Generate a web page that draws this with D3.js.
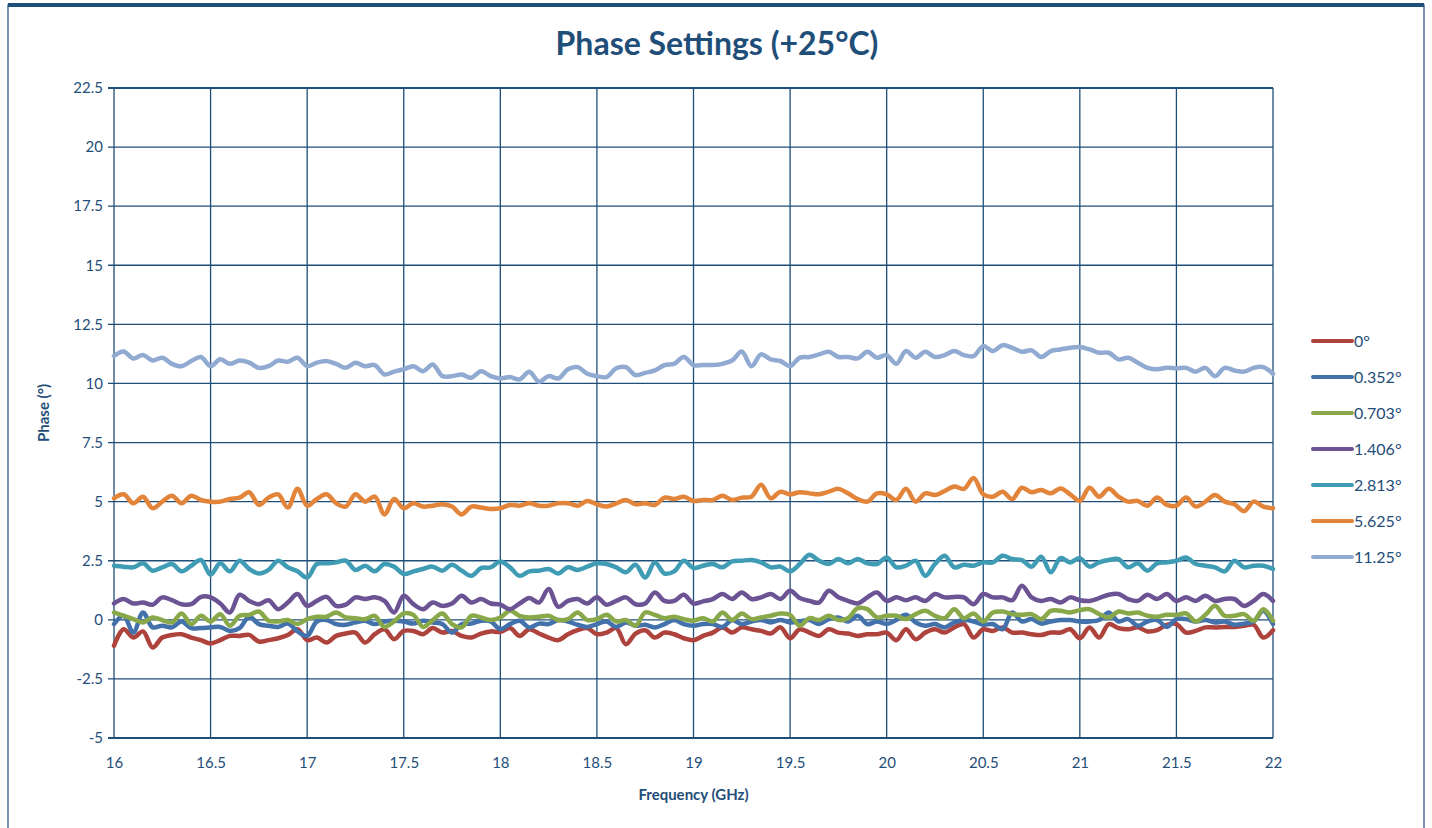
<!DOCTYPE html>
<html>
<head>
<meta charset="utf-8">
<script src="https://cdn.jsdelivr.net/npm/d3@7"></script>
<style>
  html, body { margin: 0; padding: 0; background: #fff; }
  svg { display: block; }
</style>
</head>
<body>
<svg id="chart" width="1432" height="828"></svg>
<script>
// ---------- DATA ----------
const freqStart = 16, freqStep = 0.05;
const xTicks = [16, 16.5, 17, 17.5, 18, 18.5, 19, 19.5, 20, 20.5, 21, 21.5, 22];
const yTicks = [-5, -2.5, 0, 2.5, 5, 7.5, 10, 12.5, 15, 17.5, 20, 22.5];
const seriesNames = ["0°", "0.352°", "0.703°", "1.406°", "2.813°", "5.625°", "11.25°"];
const seriesColors = ["#AE423D", "#4371AB", "#88A84A", "#6C5393", "#3F9CB4", "#E2843A", "#91AAD1"];

const s0 = [-1.1,-0.4,-0.75,-0.49,-1.17,-0.75,-0.64,-0.61,-0.75,-0.86,-1.0,-0.86,-0.68,-0.68,-0.64,-0.92,-0.86,-0.78,-0.64,-0.4,-0.86,-0.75,-0.96,-0.68,-0.58,-0.54,-0.96,-0.61,-0.4,-0.82,-0.47,
-0.47,-0.61,-0.35,-0.54,-0.47,-0.68,-0.75,-0.58,-0.49,-0.51,-0.35,-0.68,-0.4,-0.58,-0.75,-0.86,-0.61,-0.44,-0.35,-0.61,-0.54,-0.35,-1.03,-0.58,-0.44,-0.75,-0.54,-0.61,-0.78,-0.86,
-0.68,-0.54,-0.32,-0.54,-0.32,-0.4,-0.47,-0.58,-0.32,-0.78,-0.4,-0.54,-0.68,-0.4,-0.54,-0.58,-0.68,-0.61,-0.61,-0.54,-0.86,-0.4,-0.82,-0.54,-0.4,-0.54,-0.32,-0.18,-0.75,-0.4,
-0.47,-0.32,-0.54,-0.54,-0.61,-0.64,-0.54,-0.54,-0.4,-0.78,-0.32,-0.75,-0.18,-0.35,-0.4,-0.32,-0.49,-0.44,-0.21,-0.18,-0.54,-0.47,-0.32,-0.32,-0.3,-0.3,-0.25,-0.21,-0.75,-0.44];
const s1 = [-0.18,0.17,-0.54,0.31,-0.32,-0.25,-0.32,-0.07,-0.35,-0.35,-0.32,-0.3,-0.47,-0.35,0.13,-0.18,-0.25,-0.3,-0.16,-0.49,-0.68,-0.07,-0.01,-0.18,-0.21,-0.11,-0.04,-0.18,-0.07,-0.04,-0.07,
-0.16,-0.04,-0.11,-0.18,-0.54,-0.18,-0.16,-0.04,-0.07,-0.4,-0.18,-0.04,-0.32,-0.16,-0.18,-0.01,-0.07,-0.21,-0.3,-0.18,-0.07,-0.3,-0.11,-0.25,-0.21,-0.32,-0.18,-0.01,-0.18,-0.25,
-0.18,-0.18,-0.3,-0.01,-0.18,-0.07,-0.01,-0.11,-0.01,-0.11,-0.07,-0.01,-0.18,0.03,0.1,-0.07,0.17,-0.18,-0.07,-0.18,-0.01,0.21,-0.11,-0.25,-0.18,-0.32,-0.11,-0.01,-0.07,-0.21,
-0.18,-0.4,0.31,-0.07,0.03,-0.16,-0.07,-0.01,-0.01,-0.07,-0.07,-0.01,0.31,-0.07,0.03,-0.25,-0.07,-0.01,-0.3,0.03,0.03,-0.07,-0.01,-0.11,-0.07,-0.21,-0.16,-0.07,0.38,-0.18];
const s2 = [0.31,0.17,0.03,-0.11,0.1,-0.01,-0.11,0.27,-0.18,0.17,-0.07,0.24,-0.25,0.17,0.21,0.35,-0.04,-0.07,-0.01,-0.18,0.03,0.13,0.13,0.31,0.1,0.07,0.03,0.17,-0.3,-0.07,0.27,
0.21,-0.3,-0.01,0.27,-0.18,-0.32,0.17,0.1,-0.01,0.1,0.38,0.17,0.1,0.13,0.17,-0.01,0.03,0.31,-0.01,0.03,0.21,-0.07,-0.01,-0.25,0.31,0.21,0.07,0.13,0.03,-0.04,
0.07,-0.07,0.31,-0.01,0.27,0.03,0.1,0.17,0.27,0.21,-0.25,0.07,-0.01,0.17,-0.01,0.07,0.49,0.45,0.1,0.17,0.17,0.03,0.24,0.38,0.17,0.07,0.45,0.07,0.27,-0.07,
0.31,0.35,0.24,0.21,0.24,0.03,0.38,0.38,0.31,0.41,0.45,0.24,0.1,0.35,0.27,0.31,0.17,0.13,0.21,0.21,0.27,-0.07,0.21,0.59,0.17,0.17,0.24,-0.04,0.45,-0.04];
const s3 = [0.69,0.88,0.69,0.73,0.64,0.95,0.83,0.66,0.66,0.97,0.95,0.69,0.31,1.06,0.8,0.66,0.83,0.45,0.73,1.09,0.59,0.8,0.97,0.59,0.64,0.95,0.88,0.95,0.8,0.31,1.02,
0.66,0.45,0.73,0.59,0.69,1.02,0.73,0.88,0.69,0.64,0.45,0.69,0.92,0.73,1.3,0.55,0.8,0.88,0.69,0.95,0.64,0.8,0.95,0.66,0.69,1.16,0.8,0.8,1.06,0.69,
0.78,0.88,1.09,0.88,1.16,0.88,0.95,1.09,0.88,1.23,0.92,0.8,0.73,1.23,0.95,0.8,0.69,0.95,1.16,0.8,0.95,0.83,0.95,0.8,1.09,0.95,0.97,0.95,0.66,1.09,
0.95,0.95,0.83,1.44,0.95,0.8,0.88,0.73,0.95,0.83,0.8,0.92,1.06,1.09,0.88,0.8,1.06,0.88,1.09,0.8,0.95,0.8,1.02,0.8,0.88,0.88,0.59,0.8,1.09,0.8];
const s4 = [2.29,2.25,2.22,2.39,2.08,2.22,2.36,2.05,2.29,2.53,1.91,2.39,2.05,2.5,2.15,1.96,2.11,2.5,2.22,2.05,1.79,2.36,2.39,2.43,2.5,2.11,2.29,2.05,2.36,2.25,1.94,
2.05,2.15,2.25,2.08,2.33,2.08,1.86,2.19,2.22,2.47,2.22,1.86,2.05,2.08,2.15,1.96,2.22,2.11,2.25,2.39,2.36,2.22,2.01,2.33,1.79,2.43,1.96,2.05,2.5,2.19,
2.29,2.36,2.22,2.47,2.5,2.53,2.43,2.22,2.25,2.05,2.36,2.75,2.5,2.36,2.57,2.39,2.57,2.39,2.36,2.64,2.22,2.29,2.5,1.86,2.36,2.71,2.22,2.33,2.29,2.43,
2.43,2.71,2.57,2.53,2.25,2.67,2.01,2.61,2.43,2.61,2.25,2.43,2.53,2.57,2.22,2.39,2.08,2.39,2.43,2.5,2.64,2.36,2.29,2.22,2.05,2.5,2.22,2.29,2.29,2.15];
const s5 = [5.14,5.31,4.93,5.21,4.72,5.0,5.25,4.93,5.25,5.07,5.0,5.0,5.11,5.17,5.4,4.86,5.17,5.31,4.75,5.54,4.83,5.11,5.31,4.93,4.79,5.31,5.0,5.21,4.46,5.11,4.72,
4.93,4.79,4.83,4.89,4.79,4.46,4.79,4.75,4.69,4.72,4.86,4.83,4.93,4.83,4.83,4.93,4.93,4.83,5.03,4.89,4.79,4.93,5.07,4.89,4.93,4.86,5.17,5.11,5.21,5.03,
5.07,5.07,5.25,5.07,5.17,5.21,5.71,5.14,5.42,5.31,5.4,5.35,5.31,5.42,5.54,5.35,5.11,5.0,5.35,5.31,5.07,5.54,5.0,5.35,5.28,5.45,5.64,5.54,6.0,5.31,
5.21,5.42,5.11,5.59,5.4,5.49,5.35,5.56,5.31,5.03,5.59,5.21,5.54,5.21,5.0,5.03,4.83,5.17,4.86,4.83,5.17,4.79,5.0,5.28,5.0,4.89,4.6,5.0,4.79,4.72];
const s6 = [11.16,11.35,11.06,11.2,10.97,11.09,10.83,10.73,10.95,11.12,10.73,11.02,10.83,10.97,10.88,10.66,10.73,10.97,10.92,11.09,10.73,10.88,10.95,10.83,10.66,10.88,10.73,10.78,10.38,10.5,10.6,
10.73,10.52,10.8,10.31,10.31,10.38,10.24,10.52,10.31,10.21,10.27,10.17,10.5,10.07,10.31,10.21,10.6,10.69,10.41,10.31,10.27,10.64,10.69,10.35,10.45,10.55,10.78,10.83,11.12,10.78,
10.78,10.78,10.83,10.97,11.35,10.73,11.23,11.02,10.95,10.73,11.09,11.12,11.23,11.34,11.12,11.12,11.06,11.34,11.09,11.2,10.83,11.37,11.09,11.34,11.12,11.2,11.37,11.2,11.16,11.58,
11.37,11.62,11.51,11.34,11.4,11.12,11.37,11.44,11.51,11.54,11.44,11.3,11.3,11.02,11.09,10.88,10.66,10.6,10.66,10.64,10.66,10.5,10.66,10.31,10.66,10.55,10.5,10.66,10.69,10.41];
const seriesValues = [s0, s1, s2, s3, s4, s5, s6];

// ---------- LAYOUT ----------
const svg = d3.select("#chart");
const plot = { left: 114, right: 1273, top: 88, bottom: 738 };
const ink = "#1F4E79";
const textColor = "#1F4E79";
const font = "Lato, 'Open Sans', sans-serif";

// outer frame
svg.append("rect").attr("x", 8).attr("y", 5).attr("width", 1416).attr("height", 840)
  .attr("fill", "#fff").attr("stroke", ink).attr("stroke-width", 1.2);
svg.append("line").attr("x1", 8).attr("x2", 1424).attr("y1", 5).attr("y2", 5)
  .attr("stroke", ink).attr("stroke-width", 4);

const x = d3.scaleLinear().domain([16, 22]).range([plot.left, plot.right]);
const y = d3.scaleLinear().domain([-5, 22.5]).range([plot.bottom, plot.top]);

// gridlines
const g = svg.append("g");
g.selectAll("line.v").data(xTicks).join("line")
  .attr("x1", d => x(d)).attr("x2", d => x(d))
  .attr("y1", plot.top).attr("y2", plot.bottom)
  .attr("stroke", ink).attr("stroke-width", 1.3);
g.selectAll("line.h").data(yTicks).join("line")
  .attr("x1", plot.left - 6).attr("x2", plot.right)
  .attr("y1", d => y(d)).attr("y2", d => y(d))
  .attr("stroke", ink).attr("stroke-width", d => (d === 22.5 || d === -5) ? 2 : 1.3);

// axes labels via d3 axes
const yAxis = svg.append("g").attr("transform", `translate(${plot.left - 6},0)`)
  .call(d3.axisLeft(y).tickValues(yTicks).tickSize(0).tickPadding(5).tickFormat(d => String(d)));
yAxis.select(".domain").remove();
yAxis.selectAll("text").attr("fill", textColor).style("font-family", font).style("font-size", "15px");

const xAxis = svg.append("g").attr("transform", `translate(0,${plot.bottom})`)
  .call(d3.axisBottom(x).tickValues(xTicks).tickSize(0).tickPadding(19).tickFormat(d => String(d)));
xAxis.select(".domain").remove();
xAxis.selectAll("text").attr("fill", textColor).style("font-family", font).style("font-size", "15px");

// series lines
const freqs = d3.range(s0.length).map(i => +(freqStart + i * freqStep).toFixed(2));
const line = d3.line().x((d, i) => x(freqs[i])).y(d => y(d)).curve(d3.curveCatmullRom.alpha(0.5));
svg.append("g").selectAll("path").data(seriesValues).join("path")
  .attr("d", d => line(d))
  .attr("fill", "none")
  .attr("stroke", (d, i) => seriesColors[i])
  .attr("stroke-width", 4.5)
  .attr("stroke-linejoin", "round")
  .attr("stroke-linecap", "round");

// title
svg.append("text").attr("x", 717).attr("y", 55).attr("text-anchor", "middle")
  .attr("fill", textColor).style("font-family", font).style("font-weight", "bold").style("font-size", "32px")
  .text("Phase Settings (+25°C)");

// axis titles
svg.append("text").attr("x", (plot.left + plot.right) / 2).attr("y", 800).attr("text-anchor", "middle")
  .attr("fill", textColor).style("font-family", font).style("font-weight", "bold").style("font-size", "15px")
  .text("Frequency (GHz)");
svg.append("text").attr("transform", "translate(49,413) rotate(-90)").attr("text-anchor", "middle")
  .attr("fill", textColor).style("font-family", font).style("font-weight", "bold").style("font-size", "15px")
  .text("Phase (°)");

// legend
const lg = svg.append("g");
const legendRows = lg.selectAll("g").data(seriesNames).join("g")
  .attr("transform", (d, i) => `translate(1313,${341 + i * 36})`);
legendRows.append("line").attr("x1", 0).attr("x2", 39).attr("y1", 0).attr("y2", 0)
  .attr("stroke", (d, i) => seriesColors[i]).attr("stroke-width", 4).attr("stroke-linecap", "round");
legendRows.append("text").attr("x", 41).attr("y", 0).attr("dy", "0.35em")
  .attr("fill", textColor).style("font-family", font).style("font-size", "16px")
  .text(d => d);
</script>
</body>
</html>
